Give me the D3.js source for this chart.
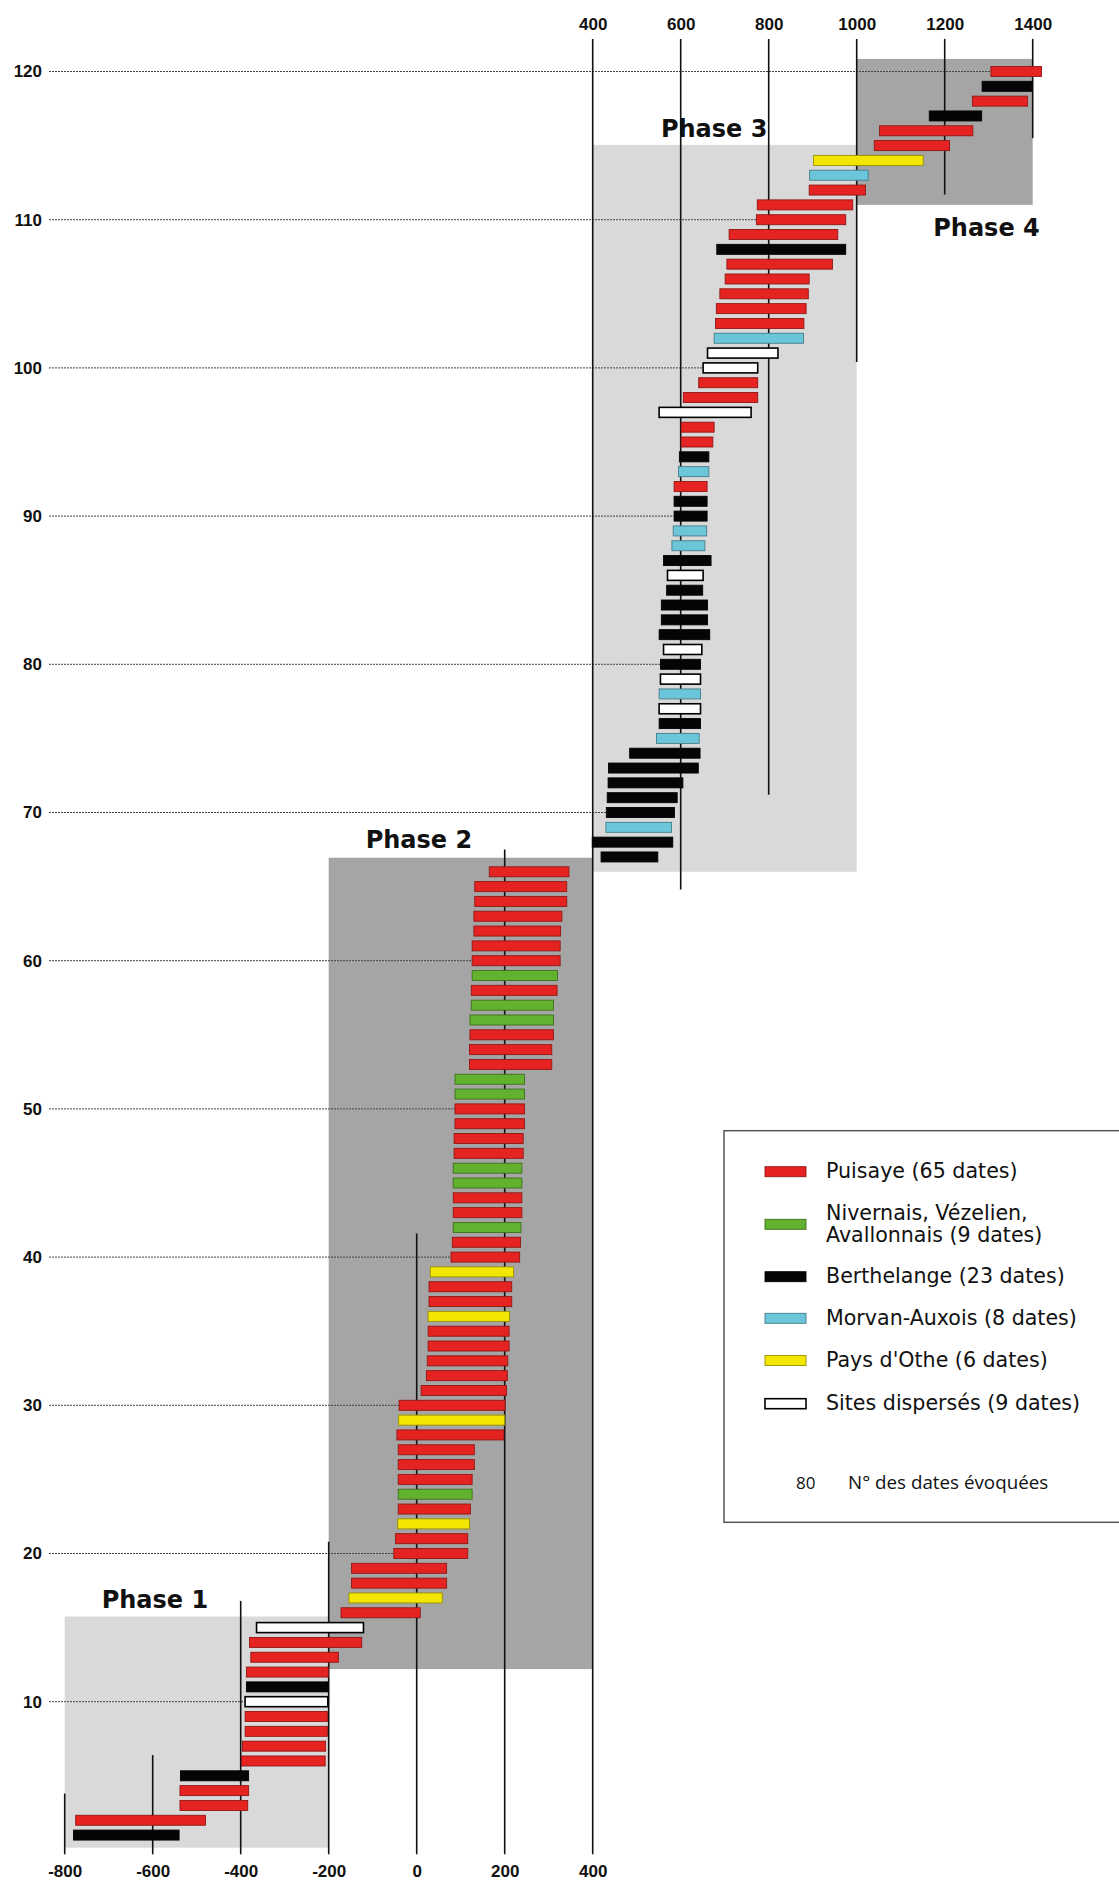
<!DOCTYPE html>
<html>
<head>
<meta charset="utf-8">
<script src="https://cdn.jsdelivr.net/npm/d3@7"></script>
<style>
  html, body { margin: 0; padding: 0; background: #fff; }
  svg { display: block; }
</style>
</head>
<body>
<svg id="chart" width="1119" height="1881"></svg>
<script>
// dates numbered from the bottom (1) to the top (120)
// region codes: P Puisaye, N Nivernais, B Berthelange, M Morvan-Auxois, O Pays d'Othe, S sites dispersés
var regions = [
  "B","P","P","P","B","P","P","P","P","S",
  "B","P","P","P","S","P","O","P","P","P",
  "P","O","P","N","P","P","P","P","O","P",
  "P","P","P","P","P","O","P","P","O","P",
  "P","N","P","P","N","N","P","P","P","P",
  "N","N","P","P","P","N","N","P","N","P",
  "P","P","P","P","P","P","B","B","M","B",
  "B","B","B","B","M","B","S","M","S","B",
  "S","B","B","B","B","S","B","M","M","B",
  "B","P","M","B","P","P","S","P","P","S",
  "S","M","P","P","P","P","P","B","P","P",
  "P","P","M","O","P","P","B","P","B","P"
];
var starts = [
  -780,-775,-538,-538,-537,-398,-396,-390,-390,-390,
  -387,-387,-377,-380,-364,-172,-154,-148,-148,-52,
  -48,-43,-42,-42,-42,-42,-42,-45,-41,-40,
  10,22,24,26,26,26,28,28,31,78,
  81,83,83,83,83,83,85,85,87,87,
  87,87,120,120,121,121,124,124,126,126,
  126,130,130,132,132,165,419,399,430,431,
  433,435,436,484,545,551,551,551,554,554,
  561,551,556,556,568,570,561,580,583,585,
  585,585,595,597,601,601,551,606,641,651,
  661,676,679,681,689,701,705,682,710,772,
  774,892,893,902,1040,1052,1165,1263,1285,1305
];
var ends = [
  -540,-480,-384,-382,-382,-208,-207,-203,-203,-202,
  -201,-201,-178,-125,-121,8,58,68,68,116,
  116,120,122,126,126,131,131,198,200,201,
  204,206,207,210,210,211,216,216,220,234,
  236,237,239,239,239,239,242,242,245,245,
  245,245,307,307,311,311,311,319,320,326,
  326,327,330,341,341,346,548,582,579,586,
  592,605,640,644,642,645,645,645,645,645,
  648,666,661,661,650,651,669,655,659,660,
  660,660,664,664,673,676,760,775,775,775,
  821,879,880,885,890,892,945,975,957,975,
  991,1020,1026,1151,1211,1264,1284,1388,1398,1420
];

var regionKeys = ["P","N","B","M","O","S"];
var regionLabels = [
  ["Puisaye (65 dates)"],
  ["Nivernais, Vézelien,", "Avallonnais (9 dates)"],
  ["Berthelange (23 dates)"],
  ["Morvan-Auxois (8 dates)"],
  ["Pays d'Othe (6 dates)"],
  ["Sites dispersés (9 dates)"]
];

var phaseNames = ["Phase 1","Phase 2","Phase 3","Phase 4"];
var phaseFrom = [-800,-200,400,1000];
var phaseTo = [-200,400,1000,1400];
var phaseLow = [0.15,12.2,66.0,111.0];
var phaseHigh = [15.75,66.95,115.05,120.85];
var phaseLabelYear = [-595,5,676,1295];
var phaseLabelN = [16.3,67.6,115.55,108.93];

var bottomTicks = [-800,-600,-400,-200,0,200,400];
var topTicks = [400,600,800,1000,1200,1400];
var rowTicks = d3.range(10,121,10);

// guide lines (year, top end, bottom end, in date numbers)
var guideYears = [-800,-600,-400,-200,0,200,400,600,800,1000,1200,1400];
var guideTop = [3.8,6.4,16.8,20.8,41.6,67.5,122.2,122.2,122.2,122.2,122.2,122.2];
var guideBottom = [-0.3,-0.3,-0.3,-0.3,-0.3,-0.3,-0.3,64.8,71.2,100.4,111.7,115.5];

var colors = d3.scaleOrdinal()
  .domain(regionKeys)
  .range(["#e52421","#63b22f","#050505","#6cc6d9","#f3e600","#ffffff"]);

var svg = d3.select("#chart");

var x = d3.scaleLinear().domain([-800,1400]).range([64.7,1032.7]);
var y = d3.scaleLinear().domain([120,10]).range([71.5,1701.7]);

var rows = regions.map(function (r, i) {
  return { n: i + 1, region: r, start: starts[i], end: ends[i] };
});

// phase boxes
svg.append("g").selectAll("rect")
  .data(phaseNames)
  .enter().append("rect")
  .attr("x", function (d, i) { return x(phaseFrom[i]); })
  .attr("width", function (d, i) { return x(phaseTo[i]) - x(phaseFrom[i]); })
  .attr("y", function (d, i) { return y(phaseHigh[i]); })
  .attr("height", function (d, i) { return y(phaseLow[i]) - y(phaseHigh[i]); })
  .attr("fill", function (d, i) { return i % 2 ? "#a5a5a5" : "#d9d9d9"; });

// dotted lines from the row numbers to their bar
svg.append("g").selectAll("line")
  .data(rowTicks)
  .enter().append("line")
  .attr("x1", 49)
  .attr("x2", function (d) { return x(starts[d - 1]); })
  .attr("y1", function (d) { return y(d); })
  .attr("y2", function (d) { return y(d); })
  .attr("stroke", "#444")
  .attr("stroke-width", 1)
  .attr("stroke-dasharray", "2,1");

// vertical guides
svg.append("g").selectAll("line")
  .data(guideYears)
  .enter().append("line")
  .attr("x1", function (d) { return x(d); })
  .attr("x2", function (d) { return x(d); })
  .attr("y1", function (d, i) { return y(guideTop[i]); })
  .attr("y2", function (d, i) { return y(guideBottom[i]); })
  .attr("stroke", "#111")
  .attr("stroke-width", 1.6);

// bars
svg.append("g").selectAll("rect")
  .data(rows)
  .enter().append("rect")
  .attr("x", function (d) { return x(d.start); })
  .attr("width", function (d) { return x(d.end) - x(d.start); })
  .attr("y", function (d) { return y(d.n) - 5; })
  .attr("height", 10)
  .attr("fill", function (d) { return colors(d.region); })
  .attr("stroke", function (d) { return d.region == "S" ? "#000" : d3.color(colors(d.region)).darker(1.3); })
  .attr("stroke-width", function (d) { return d.region == "S" ? 1.6 : 0.9; });

// axes
var axisFont = "'Liberation Sans', Arial, sans-serif";

var topAxis = svg.append("g")
  .attr("transform", "translate(0,38)")
  .call(d3.axisTop(x).tickValues(topTicks).tickSize(0).tickPadding(8).tickFormat(d3.format("d")));
var bottomAxis = svg.append("g")
  .attr("transform", "translate(0,1855)")
  .call(d3.axisBottom(x).tickValues(bottomTicks).tickSize(0).tickPadding(10).tickFormat(function (d) { return String(d); }));
var leftAxis = svg.append("g")
  .attr("transform", "translate(49,0)")
  .call(d3.axisLeft(y).tickValues(rowTicks).tickSize(0).tickPadding(7));

[topAxis, bottomAxis, leftAxis].forEach(function (a) {
  a.select(".domain").remove();
  a.selectAll("text")
    .attr("font-family", axisFont)
    .attr("font-weight", "bold")
    .attr("font-size", 17)
    .attr("fill", "#111");
});

// phase labels
svg.append("g").selectAll("text")
  .data(phaseNames)
  .enter().append("text")
  .attr("x", function (d, i) { return x(phaseLabelYear[i]); })
  .attr("y", function (d, i) { return y(phaseLabelN[i]); })
  .attr("text-anchor", "middle")
  .attr("font-family", "'DejaVu Sans', Verdana, sans-serif")
  .attr("font-weight", "bold")
  .attr("font-size", 24)
  .attr("fill", "#111")
  .text(function (d) { return d; });

// legend
var legend = svg.append("g");
legend.append("rect")
  .attr("x", 724).attr("y", 1130.7)
  .attr("width", 420).attr("height", 391.6)
  .attr("fill", "#fff")
  .attr("stroke", "#555")
  .attr("stroke-width", 1.5);

var legendRowY = [1171.7, 1224.3, 1276.7, 1318.3, 1360.5, 1403.7];

var item = legend.selectAll(".item")
  .data(regionKeys)
  .enter().append("g")
  .attr("class", "item")
  .attr("transform", function (d, i) { return "translate(0," + legendRowY[i] + ")"; });

item.append("rect")
  .attr("x", 765).attr("y", -5)
  .attr("width", 41).attr("height", 10)
  .attr("fill", function (d) { return colors(d); })
  .attr("stroke", function (d) { return d == "S" ? "#000" : d3.color(colors(d)).darker(1.3); })
  .attr("stroke-width", function (d) { return d == "S" ? 1.6 : 0.9; });

item.append("text")
  .attr("font-family", "'DejaVu Sans', sans-serif")
  .attr("font-size", 20.6)
  .attr("fill", "#111")
  .each(function (d, i) {
    var lines = regionLabels[i];
    var t = d3.select(this);
    lines.forEach(function (s, k) {
      t.append("tspan")
        .attr("x", 826)
        .attr("y", lines.length > 1 ? -4.3 + k * 21.7 : 6.6)
        .text(s);
    });
  });

legend.append("text")
  .attr("x", 796).attr("y", 1489)
  .attr("font-family", "'Open Sans', 'Noto Sans', sans-serif")
  .attr("font-size", 17)
  .attr("fill", "#111")
  .text("80");
legend.append("text")
  .attr("x", 848).attr("y", 1489)
  .attr("font-family", "'Open Sans', 'Noto Sans', sans-serif")
  .attr("font-size", 18.8)
  .attr("fill", "#111")
  .text("N° des dates évoquées");
</script>
</body>
</html>
